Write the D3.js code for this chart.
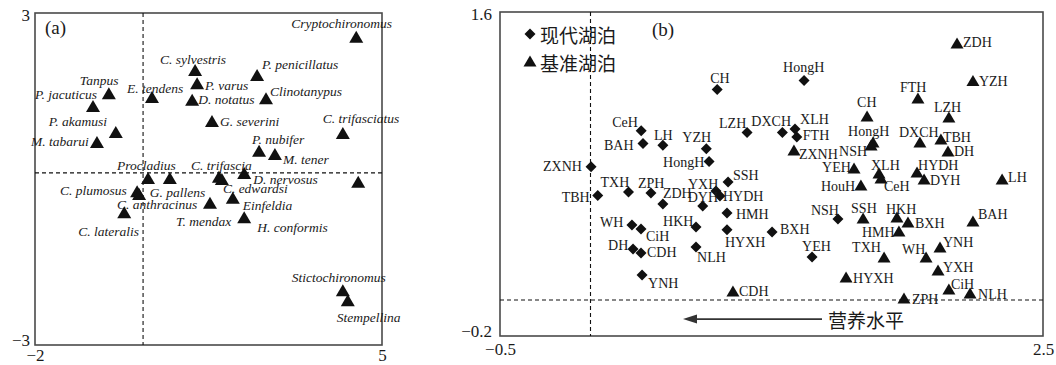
<!DOCTYPE html>
<html><head><meta charset="utf-8">
<script src="https://cdn.jsdelivr.net/npm/d3@7"></script>
<style>
body{margin:0;background:#fff}
svg{display:block}
text{font-family:"Liberation Serif","Times New Roman",serif;fill:#1a1a1a}
</style>
</head><body><svg id="c" width="1056" height="365"></svg>
<script>
// ---------- DATA ----------
// Panel (a): chironomid taxa scores
const taxaNames = ["Cryptochironomus","C. sylvestris","P. penicillatus","P. varus","E. tendens","Clinotanypus","D. notatus","Tanpus","P. jacuticus","G. severini","P. akamusi","M. tabarui","C. trifasciatus","P. nubifer","M. tener","Procladius","G. pallens","C. trifascia","C. edwardsi","D. nervosus","","C. plumosus","C. anthracinus","T. mendax","Einfeldia","C. lateralis","H. conformis","Stictochironomus","Stempellina"];
const taxaX = [4.48,1.23,2.48,1.27,0.36,2.66,1.17,-0.51,-0.83,1.57,-0.37,-0.75,4.21,2.52,2.84,0.28,0.72,1.71,1.77,2.22,4.52,0.06,0.10,1.53,1.99,-0.20,2.22,4.21,4.31];
const taxaY = [2.57,1.97,1.88,1.73,1.48,1.46,1.43,1.55,1.32,1.05,0.85,0.67,0.83,0.51,0.45,0.02,0.02,0.04,0.00,0.11,-0.05,-0.22,-0.27,-0.43,-0.34,-0.60,-0.69,-2.01,-2.19];
const refLinesA = [0.18, 0.11]; // x, y of dashed lines

// Panel (b): lake scores
const modernLakes = ["CH","CeH","BAH","LH","YZH","HongH","LZH","DXCH","XLH","FTH","HongH","ZXNH","SSH","TBH","TXH","ZPH","ZDH","YXH","HYDH","DYH","HMH","HKH","HYXH","BXH","NSH","YEH","NLH","WH","CiH","DH","CDH","YNH"];
const modernX = [0.70,0.28,0.29,0.40,0.64,0.655,0.865,1.06,1.13,1.14,1.18,0.003,0.76,0.04,0.21,0.334,0.40,0.693,0.715,0.62,0.754,0.583,0.754,1.003,1.367,1.224,0.583,0.229,0.279,0.235,0.279,0.285];
const modernY = [1.17,0.94,0.87,0.86,0.84,0.77,0.93,0.93,0.95,0.905,1.22,0.74,0.656,0.58,0.60,0.594,0.533,0.606,0.578,0.522,0.483,0.406,0.39,0.378,0.45,0.239,0.294,0.417,0.394,0.283,0.261,0.139];

const refLakes = ["ZDH","YZH","FTH","CH","LZH","HongH","NSH","DXCH","TBH","DH","ZXNH","YEH","XLH","CeH","HYDH","DYH","LH","HouH","SSH","HKH","BXH","HMH","BAH","YNH","WH","TXH","YXH","HYXH","CiH","NLH","ZPH","CDH"];
const refX = [2.025,2.113,1.809,1.528,1.98,1.561,1.55,1.82,1.936,1.975,1.124,1.456,1.594,1.605,1.804,1.843,2.274,1.494,1.506,1.693,1.754,1.704,2.113,1.931,1.854,1.622,1.92,1.412,1.98,2.097,1.732,0.787];
const refY = [1.428,1.22,1.122,1.022,1.017,0.878,0.861,0.878,0.894,0.828,0.833,0.733,0.706,0.678,0.711,0.672,0.672,0.639,0.456,0.461,0.433,0.383,0.439,0.294,0.239,0.239,0.167,0.128,0.061,0.039,0.011,0.05];

const tickXA = [-2, 5], tickYA = [-3, 3];
const tickXB = [-0.5, 2.5], tickYB = [-0.2, 1.6];
const legendLabels = ["现代湖泊", "基准湖泊"];
const arrowLabel = "营养水平";
const arrowFromTo = [1.279, 0.511, -0.106]; // x start, x end, y (data units of panel b)

// ---------- LAYOUT (label offsets in px) ----------
const taxaOffsets = [[-65,-13],[-35,-10],[5,-10],[8,2],[-25,-9],[4,-7],[6,0],[-29,-13],[-58,-11],[8,1],[-67,-10],[-66,0],[-20,-15],[-7,-11],[8,5],[-31,-12],[-20,15],[-28,-11],[1,9],[9,7],[0,0],[-77,-1],[-22,11],[-34,19],[10,8],[-46,19],[13,10],[-51,-13],[-11,17]];
const modernOffsets = [[-7,-11],[-29,-8],[-39,2],[-9,-10],[-24,-11],[-46,1],[-28,-9],[-31,-11],[5,-10],[6,-2],[-21,-13],[-48,0],[5,-6],[-36,2],[-28,-10],[-13,-10],[0,-11],[-28,-6],[3,1],[-15,-9],[9,1],[-33,-5],[-2,13],[8,-2],[-27,-9],[-10,-10],[1,10],[-32,-2],[5,7],[-25,-4],[6,-1],[6,9]];
const refOffsets = [[6,0],[6,1],[-18,-11],[-10,-14],[-15,-9],[-25,-10],[-32,6],[-21,-9],[2,-2],[6,1],[5,4],[-32,-1],[-8,-7],[3,9],[1,-7],[6,1],[6,-2],[-40,2],[-12,-9],[-11,-8],[7,1],[-37,1],[5,-6],[3,-5],[-24,-7],[-32,-9],[5,-2],[7,2],[2,-5],[8,2],[8,1],[6,0]];

const svg = d3.select("#c");
const A = {l:35, r:382, t:13, b:345};
const B = {l:500, r:1043, t:12, b:336};

const xA = d3.scaleLinear().domain(tickXA).range([A.l, A.r]);
const yA = d3.scaleLinear().domain(tickYA).range([A.b, A.t]);
const xB = d3.scaleLinear().domain(tickXB).range([B.l, B.r]);
const yB = d3.scaleLinear().domain(tickYB).range([B.b, B.t]);

function tri(w, h){ return `M0,${-h/2}L${w/2},${h/2}L${-w/2},${h/2}Z`; }
function dia(r){ return `M0,${-r}L${r},0L0,${r}L${-r},0Z`; }

function frame(P, x, y, tx, ty, fmt, padX, padY){
  svg.append("rect").attr("x", P.l).attr("y", P.t).attr("width", P.r - P.l).attr("height", P.b - P.t)
    .attr("fill", "none").attr("stroke", "#4a4a4a").attr("stroke-width", 1.6);
  const gx = svg.append("g").attr("transform", `translate(0,${P.b})`)
    .call(d3.axisBottom(x).tickValues(tx).tickSize(0).tickPadding(padX).tickFormat(fmt));
  const gy = svg.append("g").attr("transform", `translate(${P.l},0)`)
    .call(d3.axisLeft(y).tickValues(ty).tickSize(0).tickPadding(padY).tickFormat(fmt));
  [gx, gy].forEach(g => {
    g.select(".domain").remove();
    g.selectAll("text").style("font-size", "17px").attr("fill", "#1a1a1a")
      .style("font-family", '"Liberation Serif",serif');
  });
  gy.selectAll(".tick text").attr("dy", (d, i) => i === 0 ? "0.05em" : "0.45em");
}

// ---------- PANEL A ----------
frame(A, xA, yA, tickXA, tickYA, d3.format("d"), 4, 5);
svg.append("line").attr("x1", xA(refLinesA[0])).attr("x2", xA(refLinesA[0])).attr("y1", A.t).attr("y2", A.b)
  .attr("stroke", "#111").attr("stroke-width", 1.1).attr("stroke-dasharray", "4,3");
svg.append("line").attr("y1", yA(refLinesA[1])).attr("y2", yA(refLinesA[1])).attr("x1", A.l).attr("x2", A.r)
  .attr("stroke", "#111").attr("stroke-width", 1.1).attr("stroke-dasharray", "4,3");
svg.append("text").attr("x", A.l + 10).attr("y", A.t + 14).attr("dominant-baseline", "central")
  .style("font-size", "19px").text("(a)");

const ga = svg.append("g");
taxaNames.forEach((n, i) => {
  const px = xA(taxaX[i]), py = yA(taxaY[i]);
  ga.append("path").attr("d", tri(14, 12)).attr("transform", `translate(${px},${py})`).attr("fill", "#111");
  if (n) ga.append("text").attr("x", px + taxaOffsets[i][0]).attr("y", py + taxaOffsets[i][1])
    .attr("dominant-baseline", "central").style("font-size", "13.5px").style("font-style", "italic").text(n);
});

// ---------- PANEL B ----------
frame(B, xB, yB, tickXB, tickYB, d3.format(".1f"), 7, 8);
svg.append("line").attr("x1", xB(0)).attr("x2", xB(0)).attr("y1", B.t).attr("y2", B.b)
  .attr("stroke", "#111").attr("stroke-width", 1.1).attr("stroke-dasharray", "4,3");
svg.append("line").attr("y1", yB(0)).attr("y2", yB(0)).attr("x1", B.l).attr("x2", B.r)
  .attr("stroke", "#111").attr("stroke-width", 1.1).attr("stroke-dasharray", "4,3");
svg.append("text").attr("x", 652).attr("y", B.t + 17).attr("dominant-baseline", "central")
  .style("font-size", "19px").text("(b)");

const gb = svg.append("g");
modernLakes.forEach((n, i) => {
  const px = xB(modernX[i]), py = yB(modernY[i]);
  gb.append("path").attr("d", dia(5.5)).attr("transform", `translate(${px},${py})`).attr("fill", "#111");
  gb.append("text").attr("x", px + modernOffsets[i][0]).attr("y", py + modernOffsets[i][1])
    .attr("dominant-baseline", "central").style("font-size", "14px").text(n);
});
refLakes.forEach((n, i) => {
  const px = xB(refX[i]), py = yB(refY[i]);
  gb.append("path").attr("d", tri(13, 11)).attr("transform", `translate(${px},${py})`).attr("fill", "#111");
  gb.append("text").attr("x", px + refOffsets[i][0]).attr("y", py + refOffsets[i][1])
    .attr("dominant-baseline", "central").style("font-size", "14px").text(n);
});

// legend
const lg = svg.append("g").attr("transform", `translate(${B.l + 30},${B.t + 22})`);
lg.append("path").attr("d", dia(5.5)).attr("fill", "#111");
lg.append("text").attr("x", 10).attr("y", 0).attr("dominant-baseline", "central")
  .style("font-size", "19px").style("font-family", '"Noto Sans CJK SC",sans-serif').text(legendLabels[0]);
lg.append("path").attr("d", tri(13, 11)).attr("transform", "translate(0,27)").attr("fill", "#111");
lg.append("text").attr("x", 10).attr("y", 28).attr("dominant-baseline", "central")
  .style("font-size", "19px").style("font-family", '"Noto Sans CJK SC",sans-serif').text(legendLabels[1]);

// arrow
const ax1 = xB(arrowFromTo[0]), ax2 = xB(arrowFromTo[1]), ay = yB(arrowFromTo[2]);
svg.append("line").attr("x1", ax1).attr("x2", ax2 + 8).attr("y1", ay).attr("y2", ay)
  .attr("stroke", "#333").attr("stroke-width", 1.6);
svg.append("path").attr("d", `M${ax2},${ay}L${ax2 + 14},${ay - 4.5}L${ax2 + 14},${ay + 4.5}Z`).attr("fill", "#333");
svg.append("text").attr("x", ax1 + 6).attr("y", ay).attr("dominant-baseline", "central")
  .style("font-size", "19px").style("font-family", '"Noto Sans CJK SC",sans-serif').attr("fill", "#333").text(arrowLabel);
</script>
</body></html>
